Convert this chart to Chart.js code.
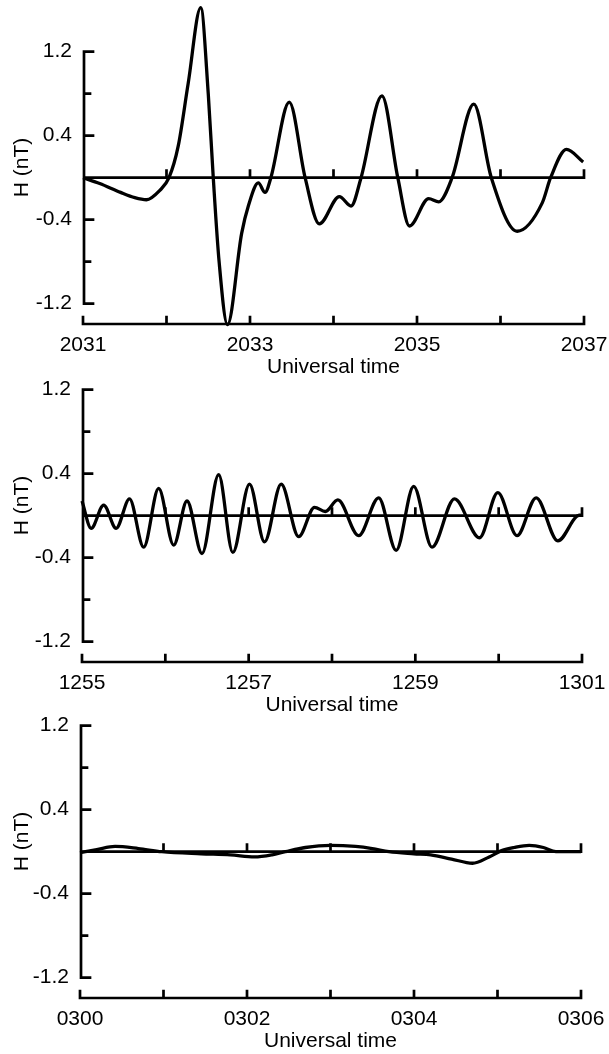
<!DOCTYPE html>
<html><head><meta charset="utf-8">
<script src="https://cdn.jsdelivr.net/npm/chart.js@4.4.1/dist/chart.umd.min.js"></script>
<style>
html,body{margin:0;padding:0;background:#fff;}
#wrap{position:relative;width:609px;height:1054px;overflow:hidden;background:#fff;}
canvas{position:absolute;left:0;}
</style></head><body>
<div id="wrap">
<canvas id="c1" width="609" height="380" style="top:0px"></canvas>
<canvas id="c2" width="609" height="380" style="top:338px"></canvas>
<canvas id="c3" width="609" height="380" style="top:674px"></canvas>
</div>
<script>
// ---- data ----
const minuteTicks = [0, 1, 2, 3, 4, 5, 6];
const p1Labels = ['2031', '2032', '2033', '2034', '2035', '2036', '2037'];
const p2Labels = ['1255', '1256', '1257', '1258', '1259', '1300', '1301'];
const p3Labels = ['0300', '0301', '0302', '0303', '0304', '0305', '0306'];
const yTickValues = [1.2, 0.8, 0.4, 0, -0.4, -0.8, -1.2];
const yLabelValues = [1.2, 0.4, -0.4, -1.2];
const baselineTime = [0, 6];
const baselineH = [0, 0];

const p1Time = [0, 0.2, 0.45, 0.62, 0.76, 0.92, 1.03, 1.14, 1.26, 1.41, 1.50, 1.56, 1.63, 1.73, 1.90, 1.98, 2.10, 2.18, 2.25, 2.47, 2.66, 2.83, 3.07, 3.21, 3.33, 3.58, 3.77, 3.91, 4.14, 4.26, 4.42, 4.68, 4.89, 5.20, 5.50, 5.60, 5.79, 5.99];
const p1H = [0, -0.055, -0.14, -0.19, -0.21, -0.12, 0, 0.30, 0.90, 1.62, 0.80, 0, -0.80, -1.40, -0.53, -0.27, -0.05, -0.14, 0, 0.72, 0, -0.44, -0.18, -0.27, 0, 0.78, 0, -0.46, -0.20, -0.23, 0, 0.70, 0, -0.51, -0.24, 0, 0.27, 0.15];

const p2Time = [0, 0.11, 0.26, 0.41, 0.57, 0.74, 0.92, 1.10, 1.26, 1.44, 1.64, 1.81, 2.01, 2.19, 2.39, 2.60, 2.79, 2.92, 3.07, 3.32, 3.56, 3.77, 3.98, 4.20, 4.47, 4.77, 4.99, 5.22, 5.45, 5.71, 5.93, 5.99];
const p2H = [0.14, -0.12, 0.10, -0.12, 0.16, -0.30, 0.26, -0.28, 0.14, -0.36, 0.39, -0.35, 0.30, -0.25, 0.30, -0.20, 0.08, 0.04, 0.15, -0.19, 0.17, -0.33, 0.28, -0.30, 0.16, -0.21, 0.22, -0.19, 0.17, -0.24, -0.01, 0.01];

const p3Time = [0, 0.2, 0.42, 0.7, 0.98, 1.45, 1.8, 2.09, 2.3, 2.46, 2.7, 3.0, 3.3, 3.5, 3.7, 4.0, 4.2, 4.45, 4.7, 4.9, 5.05, 5.2, 5.38, 5.55, 5.7, 6.0];
const p3H = [-0.01, 0.02, 0.05, 0.03, 0.0, -0.02, -0.03, -0.05, -0.03, 0, 0.04, 0.06, 0.05, 0.03, 0, -0.02, -0.03, -0.07, -0.11, -0.05, 0.01, 0.04, 0.06, 0.04, 0, 0];

// ---- drawing ----
const FONT = {family: '"Liberation Sans", Arial, sans-serif', size: 21};
const INK = '#000';

const framePlugin = {
  id: 'frame',
  afterDatasetsDraw(chart) {
    const {ctx, chartArea: {left, right, bottom}, scales: {x, y}} = chart;
    ctx.save();
    ctx.strokeStyle = INK;
    ctx.lineWidth = 2.7;
    ctx.lineCap = 'square';
    // x axis with upward ticks
    ctx.beginPath();
    ctx.moveTo(left, bottom); ctx.lineTo(right, bottom);
    minuteTicks.forEach(t => { const px = x.getPixelForValue(t); ctx.moveTo(px, bottom); ctx.lineTo(px, bottom - 7); });
    ctx.stroke();
    // y axis from 1.2 to -1.2 with inward ticks
    const yTop = y.getPixelForValue(1.2), yBot = y.getPixelForValue(-1.2);
    const ax = left + 1;
    ctx.beginPath();
    ctx.moveTo(ax, yTop); ctx.lineTo(ax, yBot);
    yTickValues.forEach(v => {
      if (v === 0) return;
      const py = y.getPixelForValue(v);
      const len = yLabelValues.includes(v) ? 9 : 6;
      ctx.moveTo(ax, py); ctx.lineTo(ax + len, py);
    });
    ctx.stroke();
    // small ticks on the zero line
    const z = y.getPixelForValue(0);
    ctx.beginPath();
    minuteTicks.forEach(t => { if (t === 0) return; const px = x.getPixelForValue(t); ctx.moveTo(px, z); ctx.lineTo(px, z - 7); });
    ctx.stroke();
    ctx.restore();
  }
};

function makePanel(id, times, values, labels, leftPx, rightPx) {
  const zeroPx = 177.7, topPx = 11, bottomPx = 324, pxPerUnit = 105;
  const yMax = (zeroPx - topPx) / pxPerUnit;
  const yMin = yMax - (bottomPx - topPx) / pxPerUnit;
  new Chart(document.getElementById(id), {
    type: 'line',
    data: {
      datasets: [
        {data: baselineTime.map((t, i) => ({x: t, y: baselineH[i]})), borderColor: INK, borderWidth: 2.7, pointRadius: 0, clip: false},
        {data: times.map((t, i) => ({x: t, y: values[i]})), borderColor: INK, borderWidth: 3.3, pointRadius: 0, cubicInterpolationMode: 'monotone', clip: false}
      ]
    },
    options: {
      responsive: false,
      animation: false,
      events: [],
      layout: {padding: {top: topPx, bottom: 0, left: 0, right: 609 - rightPx}},
      plugins: {legend: {display: false}, tooltip: {enabled: false}},
      scales: {
        x: {
          type: 'linear', min: 0, max: 6,
          afterBuildTicks: s => { s.ticks = minuteTicks.map(v => ({value: v})); },
          afterFit: s => { s.height = 380 - bottomPx; s.paddingLeft = 0; s.paddingRight = 0; },
          grid: {display: false, drawTicks: false},
          border: {display: false},
          ticks: {autoSkip: false, maxRotation: 0, padding: 9, color: INK, font: FONT,
            callback: (v, i) => (i % 2 === 0 ? labels[i] : '')},
          title: {display: true, text: 'Universal time', color: INK, font: FONT, padding: {top: 0, bottom: 0}}
        },
        y: {
          type: 'linear', min: yMin, max: yMax,
          afterBuildTicks: s => { s.ticks = yTickValues.map(v => ({value: v})); },
          afterFit: s => { s.width = leftPx; s.paddingTop = 0; s.paddingBottom = 0; },
          grid: {display: false, drawTicks: false},
          border: {display: false},
          ticks: {autoSkip: false, padding: 11, color: INK, font: FONT,
            callback: v => (yLabelValues.includes(v) ? String(v) : '')},
          title: {display: true, text: 'H (nT)', color: INK, font: FONT, padding: {top: 10, bottom: 0}}
        }
      }
    },
    plugins: [framePlugin]
  });
}

makePanel('c1', p1Time, p1H, p1Labels, 83, 584);
makePanel('c2', p2Time, p2H, p2Labels, 82, 582);
makePanel('c3', p3Time, p3H, p3Labels, 80, 581);
</script>
</body></html>
